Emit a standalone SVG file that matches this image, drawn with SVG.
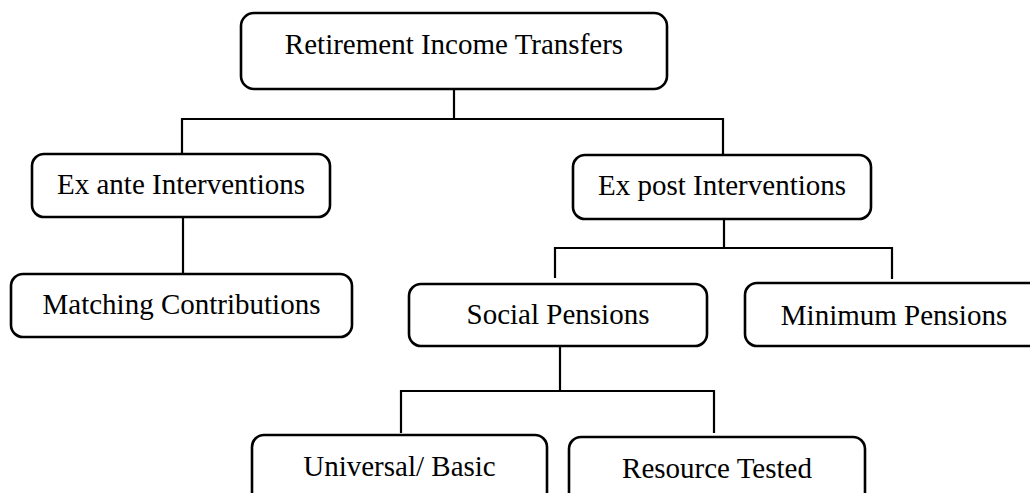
<svg xmlns="http://www.w3.org/2000/svg" width="1030" height="493" viewBox="0 0 1030 493">
<style>
.box{fill:#fff;stroke:#000;stroke-width:2.6}
.lbl{font-family:"Liberation Serif","Times New Roman",serif;font-size:29px;fill:#000;text-anchor:middle}
.con{fill:none;stroke:#000;stroke-width:2.2}
</style>
<rect width="1030" height="493" fill="#fff"/>
<g id="connectors">
<path class="con" d="M454 89V119M182 119H723M182 118V154M723 118V155"/>
<path class="con" stroke-width="1.6" d="M183 217V274"/>
<path class="con" d="M724 219V248M555 248H892M555 247V278M892 247V279"/>
<path class="con" d="M560 346V391M401 391H714M401 390V433M714 390V433"/>
</g>
<g id="n-root"><rect class="box" x="241" y="13" width="426" height="76" rx="13"/><text class="lbl" x="454" y="54">Retirement Income Transfers</text></g>
<g id="n-exante"><rect class="box" x="32" y="154" width="298" height="63" rx="12"/><text class="lbl" x="181" y="194">Ex ante Interventions</text></g>
<g id="n-expost"><rect class="box" x="573" y="155" width="298" height="64" rx="12"/><text class="lbl" x="722" y="195">Ex post Interventions</text></g>
<g id="n-matching"><rect class="box" x="11" y="274" width="341" height="63" rx="12"/><text class="lbl" x="181.5" y="314">Matching Contributions</text></g>
<g id="n-social"><rect class="box" x="409" y="284" width="298" height="62" rx="12"/><text class="lbl" x="558" y="324">Social Pensions</text></g>
<g id="n-minimum"><rect class="box" x="745" y="283" width="298" height="63" rx="12"/><text class="lbl" x="894" y="325">Minimum Pensions</text></g>
<g id="n-universal"><rect class="box" x="252" y="435" width="295" height="70" rx="12"/><text class="lbl" x="399.5" y="476">Universal/ Basic</text></g>
<g id="n-resource"><rect class="box" x="569" y="437" width="296" height="70" rx="12"/><text class="lbl" x="717" y="478">Resource Tested</text></g>
</svg>
